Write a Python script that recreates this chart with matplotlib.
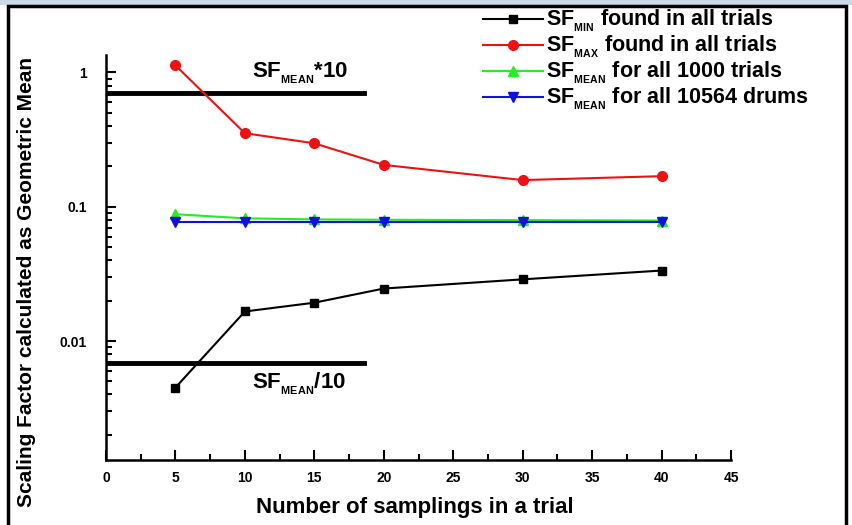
import numpy as np
import matplotlib
matplotlib.use("Agg")
import matplotlib.pyplot as plt
from matplotlib.patches import Rectangle
from matplotlib.lines import Line2D
from matplotlib.ticker import FixedLocator, LogLocator, NullFormatter

plt.rcParams['font.family'] = ['Liberation Sans', 'DejaVu Sans']
plt.rcParams['font.weight'] = 'bold'
plt.rcParams['mathtext.fontset'] = 'custom'
plt.rcParams['mathtext.rm'] = 'Liberation Sans:bold'
plt.rcParams['mathtext.default'] = 'rm'

# data
samplings = [5, 10, 15, 20, 30, 40]
sf_min = [0.0045, 0.0166, 0.0193, 0.0246, 0.0288, 0.0335]
sf_max = [1.13, 0.353, 0.297, 0.205, 0.158, 0.169]
sf_mean_trials = [0.088, 0.082, 0.0805, 0.080, 0.0795, 0.079]
sf_mean_drums = [0.0765, 0.0765, 0.0765, 0.0765, 0.0765, 0.0765]
ref_x = [0, 18.6]
ref_high = [0.70, 0.70]     # SF_MEAN*10
ref_low = [0.0069, 0.0069]  # SF_MEAN/10

labels = [r'SF$_{_{MIN}}$ found in all trials',
          r'SF$_{_{MAX}}$ found in all trials',
          r'SF$_{_{MEAN}}$ for all 1000 trials',
          r'SF$_{_{MEAN}}$ for all 10564 drums']
colors = ['black', '#ee1111', '#22ee22', '#1111dd']
markers = ['s', 'o', '^', 'v']

W, H = 852, 525
fig = plt.figure(figsize=(W / 100, H / 100), dpi=100)

# window-like frame
fig.patches.append(Rectangle((0, 1 - 5 / H), 1, 5 / H, transform=fig.transFigure,
                             facecolor='#c9d9e6', edgecolor='none', zorder=0))
fig.patches.append(Rectangle((8 / W, -0.01), (846 - 8) / W, 519 / H + 0.01,
                             transform=fig.transFigure, facecolor='none',
                             edgecolor='black', linewidth=2.5, zorder=5))

ax = fig.add_axes([106 / W, 1 - 460 / H, (731 - 106) / W, (460 - 55) / H])

series = [sf_min, sf_max, sf_mean_trials, sf_mean_drums]
zorders = [3, 3, 3, 4]
for vals, c, m, z in zip(series, colors, markers, zorders):
    ax.plot(samplings, vals, color=c, marker=m, markersize=7 if m != 's' else 6,
            lw=1.5, zorder=z)

ax.plot(ref_x, ref_high, color='black', lw=3.5)
ax.plot(ref_x, ref_low, color='black', lw=3.5)

ax.text(10.5, 0.80, r'SF$_{_{MEAN}}$*10', fontsize=16, fontweight='bold', va='bottom')
ax.text(10.5, 0.0060, r'SF$_{_{MEAN}}$/10', fontsize=16, fontweight='bold', va='top')

ax.set_yscale('log')
ax.set_xlim(0, 45)
ax.set_ylim(0.0013, 1.35)

ax.xaxis.set_major_locator(FixedLocator(np.arange(0, 46, 5)))
ax.xaxis.set_minor_locator(FixedLocator(np.arange(2.5, 45, 5)))
ax.yaxis.set_major_locator(FixedLocator([0.01, 0.1, 1]))
ax.yaxis.set_minor_locator(LogLocator(base=10, subs=np.arange(2, 10)))
ax.yaxis.set_minor_formatter(NullFormatter())
ax.set_yticklabels(['0.01', '0.1', '1'])

ax.tick_params(which='both', direction='in', width=1.5, labelsize=10)
ax.tick_params(which='major', length=7)
ax.tick_params(axis='x', which='major', pad=8)
ax.tick_params(axis='y', which='major', pad=14)
ax.tick_params(which='minor', length=4)
for lab in ax.get_xticklabels() + ax.get_yticklabels():
    lab.set_fontweight('bold')

for s in ['top', 'right']:
    ax.spines[s].set_visible(False)
for s in ['left', 'bottom']:
    ax.spines[s].set_linewidth(1.8)

fig.text(415 / W, 1 - 507 / H, 'Number of samplings in a trial',
         ha='center', va='center', fontsize=16, fontweight='bold')
fig.text(27 / W, 1 - 282 / H, 'Scaling Factor calculated as Geometric Mean',
         rotation=90, ha='center', va='center', fontsize=15, fontweight='bold')

# legend laid out by hand in the upper right
for i, (lab, c, m) in enumerate(zip(labels, colors, markers)):
    y = 1 - (19 + 26 * i) / H
    fig.add_artist(Line2D([483 / W, 543 / W], [y, y], color=c, lw=1.5,
                          transform=fig.transFigure))
    fig.add_artist(Line2D([513 / W], [y], color=c, marker=m, markersize=7 if m != 's' else 6,
                          transform=fig.transFigure))
    fig.text(546 / W, y - 6.5 / H, lab, ha='left', va='baseline', fontsize=15.5,
             fontweight='bold')

fig.savefig('out.png', dpi=100)
